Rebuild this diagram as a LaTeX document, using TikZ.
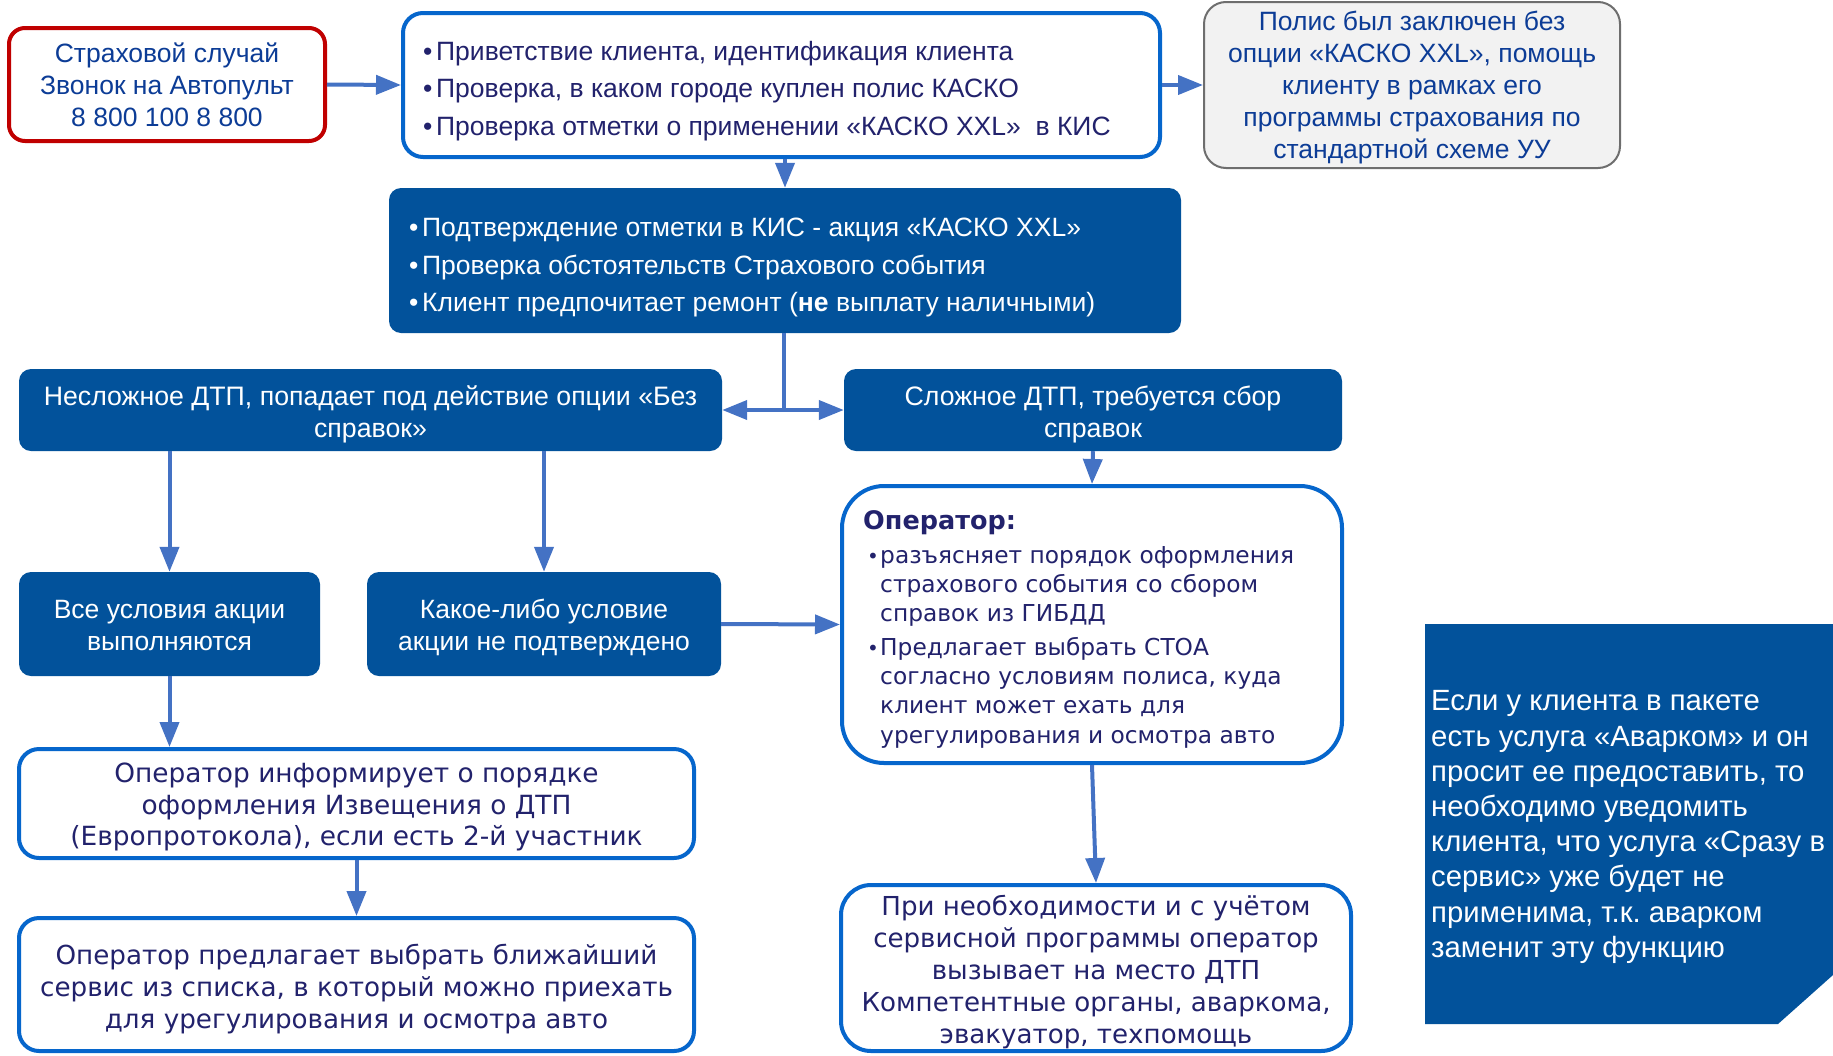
\documentclass[tikz,border=0pt]{standalone}
\usepackage{fontspec}
\setmainfont{Liberation Sans}
\newfontfamily\vfont{DejaVu Sans}
\usetikzlibrary{arrows.meta}
\frenchspacing
\definecolor{bluefill}{RGB}{2,82,155}
\definecolor{bordblue}{RGB}{6,102,204}
\definecolor{navy}{RGB}{34,34,108}
\definecolor{txtblue}{RGB}{12,60,150}
\definecolor{arrowc}{RGB}{68,114,196}
\definecolor{redb}{RGB}{192,0,0}
\definecolor{grayfill}{RGB}{242,242,242}
\definecolor{grayb}{RGB}{110,110,110}
\newcommand{\bl}[1]{\makebox[13pt][l]{•}#1}
\newcommand{\obl}[1]{\hspace*{4pt}\makebox[13pt][l]{\fontsize{20}{20}\selectfont•}#1}
\newcommand{\ocl}[1]{\hspace*{17pt}#1}
\begin{document}
\begin{tikzpicture}[x=1pt,y=-1pt,
  bluebox/.style={fill=bluefill, draw=none, rounded corners=12pt, inner sep=0pt},
  whitebox/.style={draw=bordblue, line width=4pt, fill=white, rounded corners=20pt, inner sep=0pt},
  wtext/.style={text=white, align=center, inner sep=0pt, font=\fontsize{26.7}{32}\selectfont},
  ntext/.style={text=navy, align=center, inner sep=0pt},
  arr/.style={draw=arrowc, line width=4pt, -{Triangle[length=25pt,width=19pt]}},
  lin/.style={draw=arrowc, line width=4pt}]
\useasboundingbox (0,0) rectangle (1833,1055);

% ---------- top row
\node[draw=redb, line width=4pt, fill=white, rounded corners=16pt, inner sep=0pt,
  minimum width=316pt, minimum height=113pt] (start) at (167,84.5) {};
\node[text=txtblue, align=center, inner sep=0pt, font=\fontsize{26.5}{32}\selectfont]
  (start-t) at (167,84.5) {Страховой случай\\Звонок на Автопульт\\8 800 100 8 800};

\node[whitebox, minimum width=757pt, minimum height=144pt] (check) at (781.5,85) {};
\node[ntext, align=left, anchor=west, font=\fontsize{26.5}{37.5}\selectfont] (check-t) at (423,91)
  {\bl{Приветствие клиента, идентификация клиента}\\
   \bl{Проверка, в каком городе куплен полис КАСКО}\\
   \bl{Проверка отметки о применении «КАСКО XXL»~ в КИС}};

\node[draw=grayb, line width=2pt, fill=grayfill, rounded corners=22pt, inner sep=0pt,
  minimum width=416pt, minimum height=166pt] (nopt) at (1412,85) {};
\node[text=txtblue, align=center, inner sep=0pt, font=\fontsize{26.5}{32}\selectfont]
  (nopt-t) at (1412,87.5) {Полис был заключен без\\опции «КАСКО XXL», помощь\\клиенту в рамках его\\программы страхования по\\стандартной схеме УУ};

% ---------- confirm box
\node[bluebox, minimum width=792pt, minimum height=145pt] (conf) at (785,260.5) {};
\node[wtext, align=left, anchor=west, font=\fontsize{26.5}{37.5}\selectfont] (conf-t) at (409,267.5)
  {\bl{Подтверждение отметки в КИС - акция «КАСКО XXL»}\\
   \bl{Проверка обстоятельств Страхового события}\\
   \bl{Клиент предпочитает ремонт ({\bfseries не} выплату наличными)}};

% ---------- branches
\node[bluebox, minimum width=703pt, minimum height=82pt] (easy) at (370.5,410) {};
\node[wtext] (easy-t) at (370.5,414.5) {Несложное ДТП, попадает под действие опции «Без\\справок»};
\node[bluebox, minimum width=498pt, minimum height=82pt] (hard) at (1093,410) {};
\node[wtext] (hard-t) at (1093,414) {Сложное ДТП, требуется сбор\\справок};
\node[bluebox, minimum width=301pt, minimum height=104pt] (allok) at (169.5,624) {};
\node[wtext, font=\fontsize{26.5}{32}\selectfont] (allok-t) at (169.5,625.5) {Все условия акции\\выполняются};
\node[bluebox, minimum width=354pt, minimum height=104pt] (notok) at (544,624) {};
\node[wtext, font=\fontsize{26.5}{32}\selectfont] (notok-t) at (544,627.5) {Какое-либо условие\\акции не подтверждено};

% ---------- operator box
\node[whitebox, rounded corners=42pt, minimum width=500pt, minimum height=277pt] (oper) at (1092,624.5) {};
\node[ntext, align=left, anchor=west, font=\vfont\fontsize{23.3}{29.3}\selectfont] (oper-t) at (863,629)
  {{\fontsize{25.5}{30}\selectfont\bfseries Оператор:}\\[5pt]
   \obl{разъясняет порядок оформления}\\
   \ocl{страхового события со сбором}\\
   \ocl{справок из ГИБДД}\\[4pt]
   \obl{Предлагает выбрать СТОА}\\
   \ocl{согласно условиям полиса, куда}\\
   \ocl{клиент может ехать для}\\
   \ocl{урегулирования и осмотра авто}};

% ---------- bottom boxes
\node[whitebox, minimum width=675pt, minimum height=109pt] (euro) at (356.5,803.5) {};
\node[ntext, font=\vfont\fontsize{26.4}{31.5}\selectfont] (euro-t) at (356.5,807)
  {Оператор информирует о порядке\\оформления Извещения о ДТП\\(Европротокола), если есть 2-й участник};
\node[whitebox, minimum width=675pt, minimum height=133pt] (serv) at (356.5,984.5) {};
\node[ntext, font=\vfont\fontsize{26.2}{32}\selectfont] (serv-t) at (356.5,989.5)
  {Оператор предлагает выбрать ближайший\\сервис из списка, в который можно приехать\\для урегулирования и осмотра авто};
\node[whitebox, rounded corners=30pt, minimum width=510pt, minimum height=166pt] (call) at (1096,968) {};
\node[ntext, font=\vfont\fontsize{26.1}{32.2}\selectfont] (call-t) at (1096,972)
  {При необходимости и с учётом\\сервисной программы оператор\\вызывает на место ДТП\\Компетентные органы, аваркома,\\эвакуатор, техпомощь};

% ---------- note
\fill[bluefill] (1425,624) -- (1833,624) -- (1833,975) -- (1778,1024) -- (1425,1024) -- cycle;
\node[text=white, align=left, inner sep=0pt, anchor=west, font=\fontsize{29.3}{35.2}\selectfont]
  (note) at (1431,827)
  {Если у клиента в пакете\\есть услуга «Аварком» и он\\просит ее предоставить, то\\необходимо уведомить\\клиента, что услуга «Сразу в\\сервис» уже будет не\\применима, т.к. аварком\\заменит эту функцию};

% ---------- connectors
\draw[arr] (start.east) -- (check.west);
\draw[arr] (check.east) -- (nopt.west);
\draw[arr] (check.south -| conf.north) -- (conf.north);
\coordinate (j) at (784,410);
\draw[lin] (conf.south -| j) -- (j);
\draw[arr] (j) -- (easy.east);
\draw[arr] (j) -- (hard.west);
\draw[arr] (easy.south -| allok.north) -- (allok.north);
\draw[arr] (easy.south -| notok.north) -- (notok.north);
\draw[arr] (notok.east) -- (oper.west);
\draw[arr] (hard.south) -- (oper.north);
\draw[arr] (allok.south) -- (allok.south |- euro.north);
\draw[arr] (euro.south) -- (serv.north);
\draw[arr] (oper.south) -- (call.north);
\end{tikzpicture}
\end{document}
